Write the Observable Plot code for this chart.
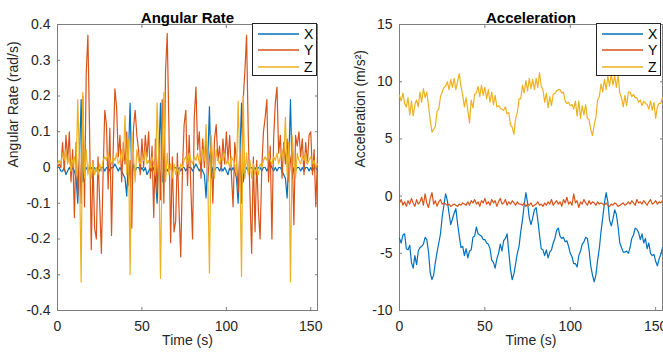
<!DOCTYPE html>
<html><head><meta charset="utf-8">
<script src="https://cdn.jsdelivr.net/npm/d3@7"></script>
<script src="https://cdn.jsdelivr.net/npm/@observablehq/plot@0.6"></script>
<style>
body{margin:0;background:#fff;}
#wrap{position:relative;width:663px;height:359px;overflow:hidden;font-family:"Liberation Sans",Arial,Helvetica,sans-serif;}
.panel{position:absolute;top:0;}
.legend{position:absolute;background:#fff;border:1px solid #262626;box-sizing:border-box;padding-top:2px;}
.lrow{display:flex;align-items:center;height:16.3px;font-size:14px;color:#000;}
.lrow svg{margin-left:5px;margin-right:5px;display:block;}
</style></head><body><div id="wrap"></div><script>
// ---------------- data ----------------
const seriesNames = ["X", "Y", "Z"];
const seriesColors = ["#0072BD", "#D95319", "#EDB120"];
const xTicks = [0, 50, 100, 150];
const gyroTicks = [-0.4, -0.3, -0.2, -0.1, 0, 0.1, 0.2, 0.3, 0.4];
const accTicks = [-10, -5, 0, 5, 10, 15];
const titles = ["Angular Rate", "Acceleration"];
const xLabel = "Time (s)";
const yLabels = ["Angular Rate (rad/s)", "Acceleration (m/s²)"];

// sample times (s), one sample per second
const time = Array.from({length: 155}, (_, i) => i);

const gyroX = [
 0.00,0.00,-0.01,-0.01,0.00,-0.02,-0.01,0.00,-0.01,0.00,
 -0.01,-0.03,-0.10,0.02,0.19,-0.04,-0.01,0.00,-0.01,0.00,
 0.00,-0.01,0.00,-0.01,0.00,-0.01,0.00,0.00,-0.01,0.00,
 0.00,-0.01,0.00,0.00,0.01,0.00,-0.01,0.00,-0.01,-0.02,
 -0.03,-0.08,0.03,0.18,-0.03,0.01,-0.01,0.00,0.00,-0.01,
 0.00,-0.01,0.00,-0.02,-0.01,0.00,-0.01,0.00,-0.03,-0.10,
 0.03,0.18,-0.04,-0.01,0.00,-0.01,0.00,0.00,-0.01,0.00,
 0.00,-0.01,0.00,-0.01,0.00,0.00,-0.01,0.00,0.00,0.00,
 -0.01,0.00,0.01,0.00,-0.01,0.00,-0.01,-0.02,-0.085,0.02,
 0.17,-0.03,0.00,-0.01,0.00,0.00,-0.01,0.00,-0.01,0.00,
 -0.01,-0.02,0.00,-0.01,0.00,-0.01,-0.03,-0.10,0.03,0.18,
 -0.04,-0.01,0.00,-0.01,0.00,0.00,-0.01,0.00,-0.01,0.00,
 0.00,-0.01,0.00,0.00,-0.01,0.00,0.01,0.00,-0.01,0.00,
 -0.01,0.00,0.00,-0.01,-0.02,-0.03,-0.085,0.02,0.19,-0.03,
 0.00,-0.01,0.00,0.00,-0.01,0.00,-0.01,0.00,0.00,-0.01,
 0.00,-0.01,0.00,0.00,-0.01
];
const gyroY = [
 0.00,0.01,0.00,0.07,-0.01,0.09,0.02,0.10,-0.04,0.05,
 -0.14,0.07,-0.08,0.04,-0.10,0.20,-0.11,0.26,0.37,0.10,
 -0.23,0.02,-0.17,-0.20,0.03,-0.10,-0.24,-0.02,0.16,0.12,
 -0.06,0.11,-0.19,0.05,0.22,0.17,0.03,0.09,-0.04,0.07,
 0.01,0.10,-0.05,0.02,-0.17,0.11,0.16,0.09,0.05,-0.02,
 0.08,0.00,0.09,0.03,0.10,-0.03,0.06,-0.14,0.08,-0.07,
 0.05,-0.09,0.19,-0.10,0.27,0.375,0.11,-0.21,0.03,-0.18,
 -0.15,0.04,-0.12,-0.25,-0.01,0.12,0.16,-0.05,0.09,-0.06,
 -0.20,0.14,0.225,0.05,0.10,-0.03,0.08,0.00,0.09,-0.04,
 0.03,0.06,-0.10,0.08,0.12,0.02,0.06,-0.01,0.08,0.01,
 0.10,0.02,0.09,-0.02,-0.11,0.07,0.02,-0.07,0.05,-0.10,
 0.19,0.27,0.37,0.09,-0.08,-0.24,0.03,-0.18,0.02,-0.12,
 -0.20,0.00,0.10,0.14,0.19,-0.04,0.06,-0.20,0.08,0.18,
 0.225,0.04,0.09,-0.03,0.07,0.01,0.08,-0.04,0.02,0.05,
 -0.16,0.09,0.06,0.10,0.03,0.08,-0.02,0.07,0.01,0.09,
 0.10,-0.02,0.05,-0.11,0.03
];
const gyroZ = [
 0.01,0.02,0.01,0.04,0.02,0.05,0.01,0.03,-0.01,0.02,
 0.03,-0.02,0.19,0.01,-0.32,0.21,-0.03,0.05,-0.02,0.02,
 -0.03,0.01,-0.02,0.00,-0.02,0.01,-0.01,0.02,0.03,0.02,
 0.04,0.02,0.01,0.03,0.02,0.04,0.01,0.02,0.05,0.02,
 0.145,-0.02,0.08,-0.30,0.10,0.03,-0.04,0.05,0.02,0.01,
 0.03,0.02,0.05,0.01,0.02,0.00,0.03,0.01,-0.02,0.18,
 0.02,-0.31,0.03,0.21,-0.04,0.04,-0.02,0.01,-0.03,0.01,
 -0.02,0.00,-0.02,0.01,0.00,0.02,0.03,0.01,0.04,0.02,
 0.01,0.03,0.02,0.04,0.01,0.03,0.05,0.02,0.12,-0.03,
 -0.295,0.09,0.02,-0.03,0.05,0.02,0.01,0.03,0.02,0.04,
 0.01,0.02,0.00,0.03,0.02,0.01,-0.02,0.185,0.01,-0.305,
 0.20,-0.03,0.04,-0.02,0.02,-0.03,0.01,-0.02,0.00,-0.02,
 0.01,0.00,0.02,0.03,0.02,0.04,0.02,0.01,0.03,0.02,
 0.04,0.01,0.03,0.05,0.02,0.14,-0.02,0.07,-0.32,0.09,
 0.02,-0.03,0.04,0.02,0.01,0.03,0.02,0.04,0.01,0.02,
 0.03,0.01,0.02,0.00,0.01
];
const accX = [
 -3.7,-4.1,-3.4,-3.3,-4.6,-4.7,-4.3,-5.8,-6.3,-5.2,
 -6.0,-4.8,-4.5,-4.4,-4.2,-3.6,-3.8,-4.9,-6.7,-7.3,
 -6.9,-5.8,-4.9,-4.1,-3.3,-1.8,-0.8,0.2,-0.4,-1.5,
 -2.5,-2.0,-1.5,-1.1,-2.4,-3.5,-4.5,-4.4,-5.2,-4.6,
 -5.4,-4.8,-4.7,-3.6,-3.5,-2.7,-3.3,-3.4,-3.5,-3.8,
 -3.8,-4.1,-4.2,-4.6,-5.6,-5.8,-6.3,-5.5,-5.0,-4.2,
 -4.8,-3.9,-3.7,-3.3,-4.9,-6.4,-7.3,-6.8,-5.9,-5.0,
 -4.4,-3.1,-2.1,-0.8,0.3,-0.6,-1.9,-2.5,-1.9,-1.2,
 -1.0,-2.1,-3.4,-4.6,-4.7,-5.2,-4.7,-5.4,-4.9,-4.7,
 -4.1,-3.7,-3.0,-2.8,-3.5,-3.7,-3.6,-4.0,-3.9,-4.4,
 -5.0,-5.3,-5.9,-5.9,-6.2,-5.2,-4.8,-4.2,-4.0,-3.6,
 -3.7,-4.7,-6.1,-6.9,-7.5,-6.9,-5.6,-4.6,-3.1,-1.9,
 -0.6,0.3,-0.5,-2.1,-2.6,-2.0,-1.2,-1.6,-2.7,-4.1,
 -4.5,-4.9,-4.9,-4.8,-5.0,-4.5,-3.7,-3.4,-2.8,-2.9,
 -3.2,-3.8,-3.3,-4.1,-3.7,-4.6,-4.1,-5.0,-5.2,-5.1,
 -5.7,-6.1,-5.5,-5.1,-4.5
];
const accY = [
 -0.6,-0.3,-0.8,-0.5,-0.9,-0.4,-0.7,-0.2,-0.6,-0.9,
 -0.3,-0.7,-0.5,-0.1,-0.8,0.2,-0.6,-1.0,-0.2,0.3,
 -0.7,-0.4,-0.9,-0.5,-0.3,-0.7,-0.6,-0.7,-0.8,-0.7,
 -0.9,-0.8,-0.7,-0.8,-0.9,-0.7,-0.8,-0.6,-0.7,-0.8,
 -0.5,-0.8,-0.4,-0.6,-0.3,-0.7,-0.5,-0.9,-0.4,-0.6,
 -0.2,-0.7,-0.5,-0.8,-0.3,-0.6,-0.4,-0.9,-0.5,-0.2,
 -0.7,-0.6,-0.3,-0.8,-0.5,-0.7,-0.4,-0.6,-0.8,-0.5,
 -0.7,-0.7,-0.8,-0.6,-0.9,-0.7,-0.8,-0.6,-0.9,-0.8,
 -0.7,-0.5,-0.8,-0.7,-0.9,-0.6,-0.8,-0.5,-0.7,-0.3,
 -0.8,-0.6,-0.4,-0.7,-0.5,-0.9,-0.3,-0.6,-0.1,-0.7,
 -0.5,-0.8,0.2,-0.6,-0.4,-1.0,-0.5,-0.7,-0.3,-0.6,
 -0.8,-0.4,-0.7,-0.5,-0.6,-0.8,-0.5,-0.7,-0.6,-0.7,
 -0.8,-0.6,-0.8,-0.9,-0.7,-0.8,-0.6,-0.7,-0.9,-0.8,
 -0.7,-0.6,-0.8,-0.7,-0.5,-0.7,-0.4,-0.6,-0.8,-0.3,
 -0.6,-0.5,-0.7,-0.4,-0.6,-0.8,-0.5,-0.3,-0.7,-0.6,
 -0.4,-0.7,-0.5,-0.6,-0.4
];
const accZ = [
 8.8,8.3,9.0,8.1,7.8,8.6,7.1,8.3,7.0,8.0,
 8.4,7.8,9.1,8.2,9.4,8.6,9.1,7.9,6.6,5.6,
 5.8,6.1,7.4,7.6,8.7,9.1,9.5,9.6,10.0,9.3,
 10.2,9.5,10.3,9.3,10.0,10.7,9.6,8.8,7.8,8.6,
 7.5,6.4,8.4,7.7,8.9,9.0,9.6,8.7,9.7,8.8,
 9.5,8.5,9.3,8.2,9.1,8.0,8.8,7.8,7.9,7.7,
 7.6,7.5,7.8,7.2,7.3,6.2,6.0,5.4,6.8,7.3,
 8.5,8.5,9.7,9.0,10.1,9.2,10.3,9.4,10.2,9.3,
 10.3,9.5,10.8,9.6,9.3,8.2,9.0,7.7,8.7,7.9,
 8.9,9.0,9.2,9.3,9.3,9.0,9.1,8.3,8.1,8.2,
 7.9,8.0,7.6,8.3,7.0,8.3,6.8,7.9,7.1,8.0,
 6.8,6.7,5.8,5.3,6.2,6.9,8.4,8.7,9.8,9.1,
 10.2,9.3,10.5,9.6,10.7,9.7,10.5,9.5,10.6,9.0,
 8.6,7.8,8.8,7.9,9.1,9.1,8.7,8.9,8.6,8.6,
 8.2,8.4,7.9,8.3,8.1,8.0,7.6,8.3,7.5,8.2,
 6.8,7.8,8.1,8.1,8.6
];

// ---------------- drawing ----------------
const FONT = '"Liberation Sans", Arial, Helvetica, sans-serif';
const INK = "#262626";
const BOX = "#7d7d7d";

function panel({series, yDomain, yTicks, title, yLabel, width, marginLeft, marginRight, yLabelDx}) {
  const table = time.map((t, i) => ({t, X: series[0][i], Y: series[1][i], Z: series[2][i]}));
  const fmt = d => String(d);
  return Plot.plot({
    width, height: 359,
    marginLeft, marginRight, marginTop: 24, marginBottom: 49,
    style: {fontFamily: FONT, fontSize: "14px", color: INK, background: "transparent", overflow: "visible"},
    x: {domain: [0, 154], ticks: xTicks},
    y: {domain: yDomain, ticks: yTicks},
    marks: [
      Plot.frame({stroke: BOX, strokeWidth: 1}),
      // inward ticks on all four sides
      Plot.axisX(xTicks, {anchor: "bottom", tickSize: -3, fill: "none", stroke: BOX, label: null}),
      Plot.axisX(xTicks, {anchor: "top", tickSize: -3, fill: "none", stroke: BOX, label: null}),
      Plot.axisY(yTicks, {anchor: "left", tickSize: -3, fill: "none", stroke: BOX, label: null}),
      Plot.axisY(yTicks, {anchor: "right", tickSize: -3, fill: "none", stroke: BOX, label: null}),
      // tick labels
      Plot.axisX(xTicks, {anchor: "bottom", tickSize: 0, tickPadding: 11, tickFormat: fmt, fill: INK, label: null}),
      Plot.axisY(yTicks, {anchor: "left", tickSize: 0, tickPadding: 7, tickFormat: fmt, fill: INK, label: null}),
      // series
      ...seriesNames.map((name, k) =>
        Plot.line(table, {x: "t", y: name, stroke: seriesColors[k], strokeWidth: 1.2})
      ),
      // titles and axis labels
      Plot.text([title], {text: d => d, frameAnchor: "top", dy: -12, fontWeight: "bold", fontSize: 15, fill: "#000"}),
      Plot.text([xLabel], {text: d => d, frameAnchor: "bottom", dy: 34, fontSize: 14, fill: INK}),
      Plot.text([yLabel], {text: d => d, frameAnchor: "left", dx: yLabelDx, rotate: -90, fontSize: 14, fill: INK})
    ]
  });
}

function legend(left, top, width, height) {
  const box = document.createElement("div");
  box.className = "legend";
  Object.assign(box.style, {left: left + "px", top: top + "px", width: width + "px", height: height + "px"});
  seriesNames.forEach((name, k) => {
    const row = document.createElement("div");
    row.className = "lrow";
    row.innerHTML = `<svg width="41" height="4"><line x1="0" x2="41" y1="2" y2="2" stroke="${seriesColors[k]}" stroke-width="1.5"/></svg><span>${name}</span>`;
    box.appendChild(row);
  });
  return box;
}

const wrap = document.getElementById("wrap");

const left = panel({series: [gyroX, gyroY, gyroZ], yDomain: [-0.4, 0.4], yTicks: gyroTicks,
  title: titles[0], yLabel: yLabels[0], width: 331, marginLeft: 57, marginRight: 14, yLabelDx: -44});
left.classList.add("panel");
left.style.left = "0px";
wrap.appendChild(left);

const right = panel({series: [accX, accY, accZ], yDomain: [-10, 15], yTicks: accTicks,
  title: titles[1], yLabel: yLabels[1], width: 332, marginLeft: 68, marginRight: 1, yLabelDx: -39});
right.classList.add("panel");
right.style.left = "331px";
wrap.appendChild(right);

wrap.appendChild(legend(252, 23, 65, 53));
wrap.appendChild(legend(596, 23, 65, 53));
</script></body></html>
